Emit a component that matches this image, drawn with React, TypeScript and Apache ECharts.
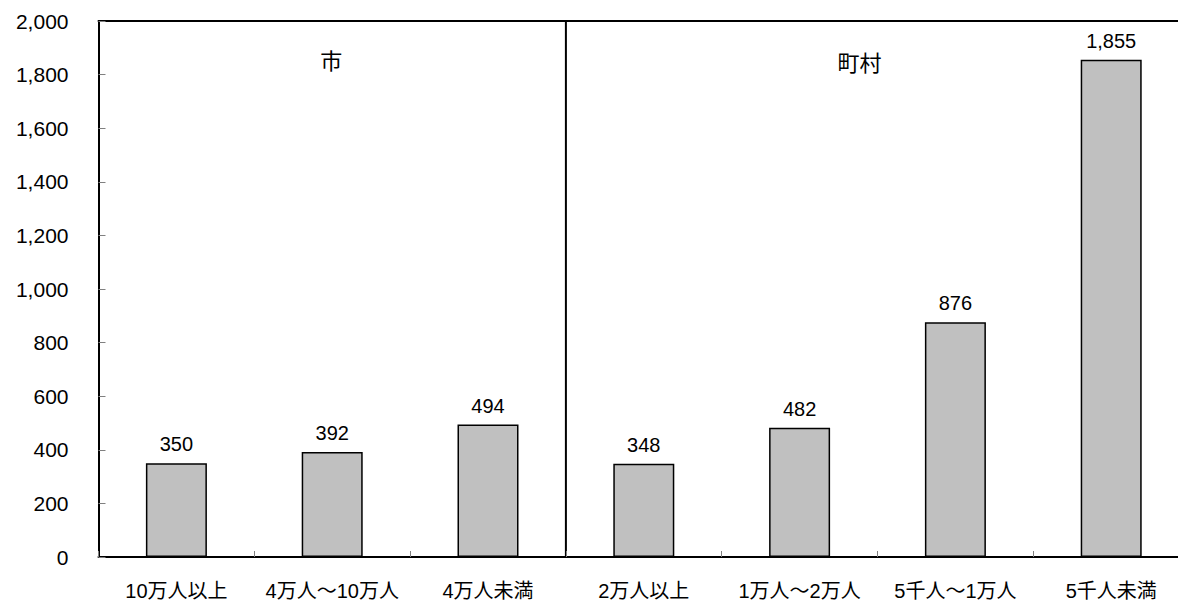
import React, { useEffect, useRef } from "react";
import * as echarts from "echarts";

// Population-size classes: cities (first three) and towns/villages (last four)
const categories = [
  "10万人以上",
  "4万人～10万人",
  "4万人未満",
  "2万人以上",
  "1万人～2万人",
  "5千人～1万人",
  "5千人未満",
];
const values = [350, 392, 494, 348, 482, 876, 1855];
const groupTitles = ["市", "町村"];
const cityCount = 3; // the first three classes are cities
const yMin = 0;
const yMax = 2000;
const yInterval = 200;

const FONT = "'Liberation Sans', Arial, 'Noto Sans CJK JP', sans-serif";
const CJK = "'Noto Sans CJK JP', sans-serif";

export default function App() {
  const ref = useRef<HTMLDivElement>(null);

  useEffect(() => {
    if (!ref.current) return;
    const chart = echarts.init(ref.current, undefined, { renderer: "svg" });
    chart.setOption({
      animation: false,
      backgroundColor: "#ffffff",
      grid: { left: 98.5, top: 21, width: 1090.6, bottom: 43.5, containLabel: false },
      xAxis: [
        {
          type: "category",
          data: categories,
          position: "bottom",
          axisLine: { lineStyle: { color: "#000", width: 2 } },
          axisTick: { show: true, inside: true, length: 6, lineStyle: { color: "#808080", width: 1 } },
          axisLabel: { color: "#000", fontSize: 20, margin: 24, fontFamily: FONT, interval: 0 },
          splitLine: { show: false },
        },
        {
          type: "category",
          data: categories,
          position: "top",
          axisLine: { lineStyle: { color: "#000", width: 2 } },
          axisTick: { show: false },
          axisLabel: { show: false },
        },
      ],
      yAxis: {
        type: "value",
        min: yMin,
        max: yMax,
        interval: yInterval,
        axisLine: { show: true, lineStyle: { color: "#000", width: 2 } },
        axisTick: { show: true, inside: true, length: 7, lineStyle: { color: "#808080", width: 1 } },
        axisLabel: {
          color: "#000",
          fontSize: 21,
          margin: 30,
          fontFamily: FONT,
          formatter: (v: number) => v.toLocaleString("en-US"),
        },
        splitLine: { show: false },
      },
      series: [
        {
          type: "bar",
          data: values,
          barWidth: 61,
          itemStyle: { color: "#c0c0c0", borderColor: "#000", borderWidth: 1.5 },
          label: {
            show: true,
            position: "top",
            distance: 9,
            color: "#000",
            fontSize: 20,
            fontFamily: FONT,
            formatter: (p: any) => Number(p.value).toLocaleString("en-US"),
          },
        },
      ],
    });

    // Divider between the city and town/village groups, plus group titles
    const px = (i: number) => chart.convertToPixel({ xAxisIndex: 0 }, categories[i]) as number;
    const dividerX = (px(cityCount - 1) + px(cityCount)) / 2;
    const top = chart.convertToPixel({ yAxisIndex: 0 }, yMax) as number;
    const bottom = chart.convertToPixel({ yAxisIndex: 0 }, yMin) as number;
    const cityCenter = px(1) - 1;
    const townCenter = (px(4) + px(5)) / 2 - 18;

    chart.setOption({
      graphic: [
        {
          type: "line",
          shape: { x1: dividerX, y1: top, x2: dividerX, y2: bottom },
          style: { stroke: "#000", lineWidth: 2 },
        },
        {
          type: "text",
          x: cityCenter,
          y: 59,
          style: {
            text: groupTitles[0],
            fill: "#000",
            font: `22px ${CJK}`,
            textAlign: "center",
            textVerticalAlign: "middle",
          },
        },
        {
          type: "text",
          x: townCenter,
          y: 61,
          style: {
            text: groupTitles[1],
            fill: "#000",
            font: `22px ${CJK}`,
            textAlign: "center",
            textVerticalAlign: "middle",
          },
        },
      ],
    });
    return () => chart.dispose();
  }, []);

  return (
    <div
      style={{
        position: "fixed",
        left: 0,
        top: 0,
        width: 1178,
        height: 601,
        overflow: "hidden",
        background: "#fff",
      }}
    >
      <div ref={ref} style={{ width: 1200, height: 601 }} />
    </div>
  );
}
